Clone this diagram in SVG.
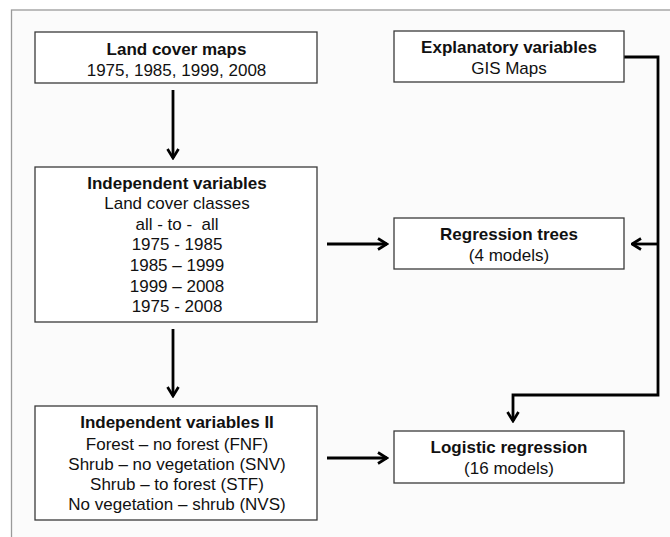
<svg xmlns="http://www.w3.org/2000/svg" width="670" height="537" viewBox="0 0 670 537">
<defs>
<style>
.box{fill:#ffffff;stroke:#3a3a3a;stroke-width:1.3}
.t{font-family:"Liberation Sans",Arial,sans-serif;font-size:17px;fill:#111;text-anchor:middle}
.b{font-weight:bold}
.c{fill:none;stroke:#000;stroke-width:2.8;stroke-linejoin:miter}
</style>
<marker id="ah" viewBox="0 0 12 14" refX="10.5" refY="7" markerWidth="12" markerHeight="14" markerUnits="userSpaceOnUse" orient="auto">
<path d="M1.5,1.5 L10.5,7 L1.5,12.5" fill="none" stroke="#000" stroke-width="2.7"/>
</marker>
</defs>
<rect x="0" y="0" width="670" height="537" fill="#ffffff"/>
<rect x="11.5" y="10" width="670" height="537" fill="#fbfbfb" stroke="#9a9a9a" stroke-width="1.3"/>
<g id="connectors">
<path class="c" d="M173,90 V158" marker-end="url(#ah)"/>
<path class="c" d="M173,329 V396" marker-end="url(#ah)"/>
<path class="c" d="M327,244 H387" marker-end="url(#ah)"/>
<path class="c" d="M327,458 H387" marker-end="url(#ah)"/>
<path class="c" d="M624,57 H658 V395 H513 V421" marker-end="url(#ah)"/>
<path class="c" d="M658,244 H632" marker-end="url(#ah)"/>
</g>
<g id="land-cover-maps">
<rect class="box" x="35" y="32" width="282" height="51"/>
<text class="t b" x="176.5" y="55">Land cover maps</text>
<text class="t" x="176.5" y="76">1975, 1985, 1999, 2008</text>
</g>
<g id="explanatory-variables">
<rect class="box" x="394" y="31" width="230" height="51"/>
<text class="t b" x="509" y="53">Explanatory variables</text>
<text class="t" x="509" y="74">GIS Maps</text>
</g>
<g id="independent-variables">
<rect class="box" x="35" y="167" width="282" height="155"/>
<text class="t b" x="177" y="189">Independent variables</text>
<text class="t" x="177" y="209">Land cover classes</text>
<text class="t" x="177" y="230" xml:space="preserve">all - to -  all</text>
<text class="t" x="177" y="250">1975 - 1985</text>
<text class="t" x="177" y="271">1985 – 1999</text>
<text class="t" x="177" y="292">1999 – 2008</text>
<text class="t" x="177" y="312">1975 - 2008</text>
</g>
<g id="regression-trees">
<rect class="box" x="394" y="218" width="230" height="51"/>
<text class="t b" x="509" y="240">Regression trees</text>
<text class="t" x="509" y="261">(4 models)</text>
</g>
<g id="independent-variables-ii">
<rect class="box" x="35" y="406" width="282" height="114"/>
<text class="t b" x="177" y="428">Independent variables II</text>
<text class="t" x="177" y="450">Forest – no forest (FNF)</text>
<text class="t" x="177" y="470">Shrub – no vegetation (SNV)</text>
<text class="t" x="177" y="490">Shrub – to forest (STF)</text>
<text class="t" x="177" y="510">No vegetation – shrub (NVS)</text>
</g>
<g id="logistic-regression">
<rect class="box" x="394" y="431" width="230" height="52"/>
<text class="t b" x="509" y="453">Logistic regression</text>
<text class="t" x="509" y="474">(16 models)</text>
</g>
</svg>
